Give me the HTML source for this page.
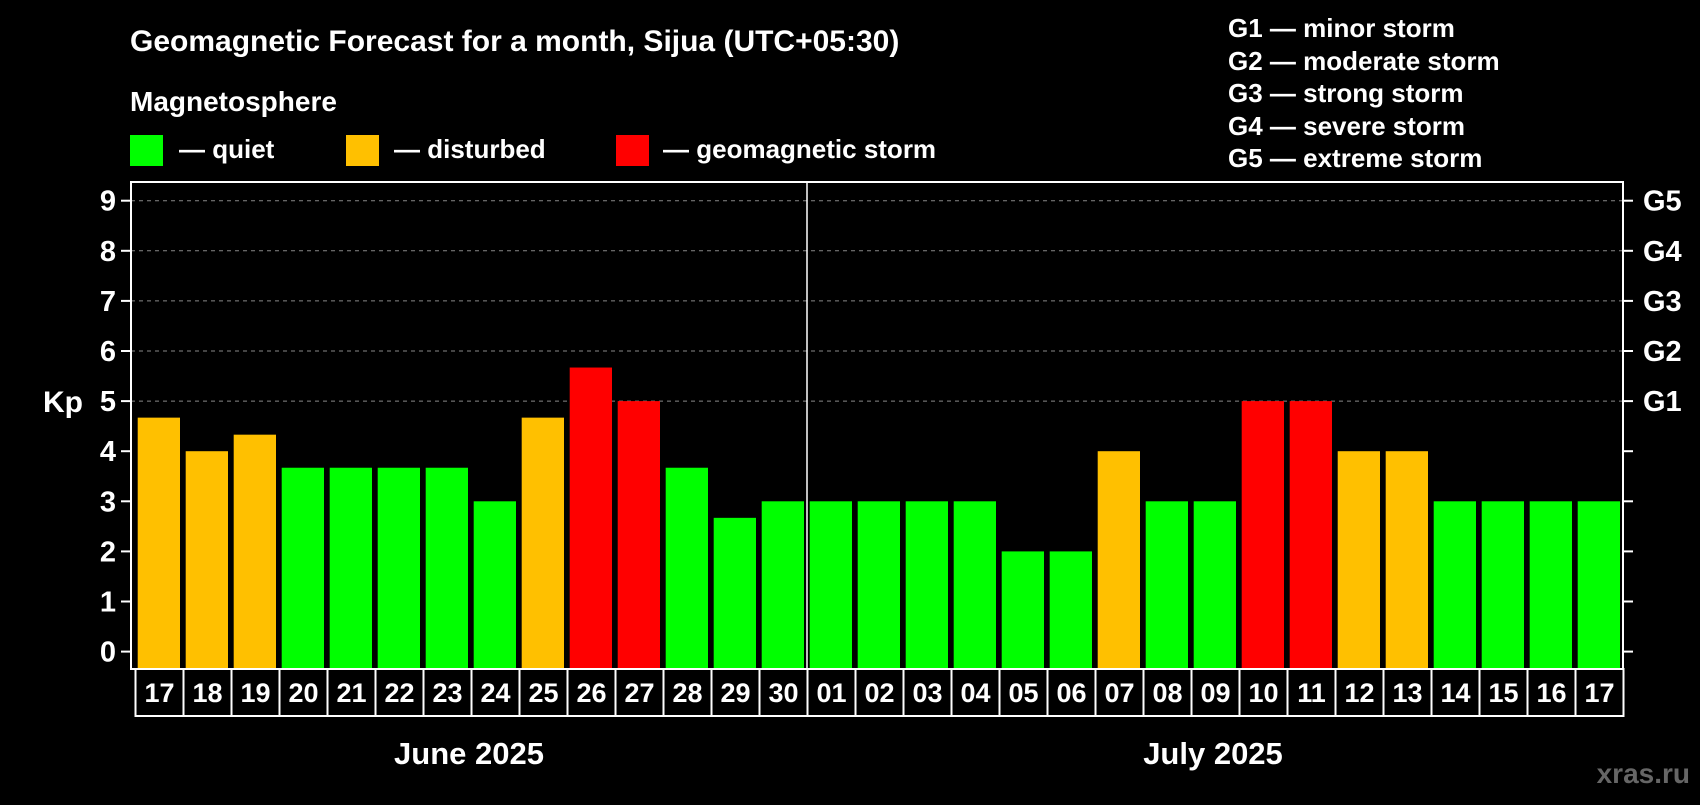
<!DOCTYPE html>
<html><head><meta charset="utf-8"><style>
body{margin:0;background:#000;width:1700px;height:800px;overflow:hidden;font-family:"Liberation Sans",sans-serif}
svg text{font-family:"Liberation Sans",sans-serif;font-weight:bold;fill:#fff}
</style></head><body>
<svg id="c" width="1700" height="800">
<text x="130" y="51" font-size="30">Geomagnetic Forecast for a month, Sijua (UTC+05:30)</text>
<text x="130" y="111" font-size="28">Magnetosphere</text>
<rect x="130" y="135" width="33" height="31" fill="#00ff00"/>
<text x="179" y="158" font-size="26">— quiet</text>
<rect x="346" y="135" width="33" height="31" fill="#ffc000"/>
<text x="394" y="158" font-size="26">— disturbed</text>
<rect x="616" y="135" width="33" height="31" fill="#ff0000"/>
<text x="663" y="158" font-size="26">— geomagnetic storm</text>
<g font-size="26">
<text x="1228" y="37">G1 — minor storm</text>
<text x="1228" y="70">G2 — moderate storm</text>
<text x="1228" y="102">G3 — strong storm</text>
<text x="1228" y="135">G4 — severe storm</text>
<text x="1228" y="167">G5 — extreme storm</text>
</g>
<text x="43" y="412" font-size="30">Kp</text>
<g id="grid"></g><g id="bars"></g>
<rect x="131" y="182" width="1492" height="487" fill="none" stroke="#fff" stroke-width="2"/>
<line x1="807" y1="182" x2="807" y2="669" stroke="#fff" stroke-width="1.5"/>
<g id="dates"></g>
<text x="469" y="764" font-size="31" text-anchor="middle">June 2025</text>
<text x="1213" y="764" font-size="31" text-anchor="middle">July 2025</text>
<text x="1690" y="783" font-size="28" text-anchor="end" style="fill:#666">xras.ru</text>
</svg>
<script>
const days=["17","18","19","20","21","22","23","24","25","26","27","28","29","30","01","02","03","04","05","06","07","08","09","10","11","12","13","14","15","16","17"];
const kp=[4.67,4,4.33,3.67,3.67,3.67,3.67,3,4.67,5.67,5,3.67,2.67,3,3,3,3,3,2,2,4,3,3,5,5,4,4,3,3,3,3];
const yTicks=["0","1","2","3","4","5","6","7","8","9"];
const gLabels=["","","","","","G1","G2","G3","G4","G5"];
const NS="http://www.w3.org/2000/svg";
const y=v=>651.6-v*50.1, x0=i=>137.7+i*48;
function mk(t,a,p){const e=document.createElementNS(NS,t);for(const k in a)e.setAttribute(k,a[k]);p.appendChild(e);return e;}
const grid=document.getElementById('grid'),bars=document.getElementById('bars'),dates=document.getElementById('dates');
yTicks.forEach((t,i)=>{const yy=y(i);
 if(i>=5){const l=mk('line',{x1:131,x2:1623,y1:yy,y2:yy,stroke:'#888','stroke-dasharray':'4 4'},grid);
 
 }
 const a=mk('line',{x1:121,x2:131,y1:yy,y2:yy,stroke:'#fff','stroke-width':2},grid);
 
 
 const b=mk('line',{x1:1623,x2:1633,y1:yy,y2:yy,stroke:'#fff','stroke-width':2},grid);
 
 
 const tx=mk('text',{x:116,y:yy+10,'font-size':29,'text-anchor':'end'},grid);tx.textContent=t;
 
 
 if(gLabels[i]){const g=mk('text',{x:1643,y:yy+10,'font-size':29},grid);g.textContent=gLabels[i];
 
 }
});
kp.forEach((v,i)=>{const c=v>=5?'#ff0000':v>=4?'#ffc000':'#00ff00';
 const r=mk('rect',{x:x0(i),y:y(v),width:42.3,height:669-y(v),fill:c},bars);
 
 
 const cx=135.5+i*48;
 const b=mk('rect',{x:cx,y:669,width:48,height:47,fill:'none',stroke:'#fff','stroke-width':2},dates);
 
 
 const t=mk('text',{x:cx+24,y:702,'font-size':27,'text-anchor':'middle'},dates);t.textContent=days[i];
 
 
});
</script>
</body></html>
